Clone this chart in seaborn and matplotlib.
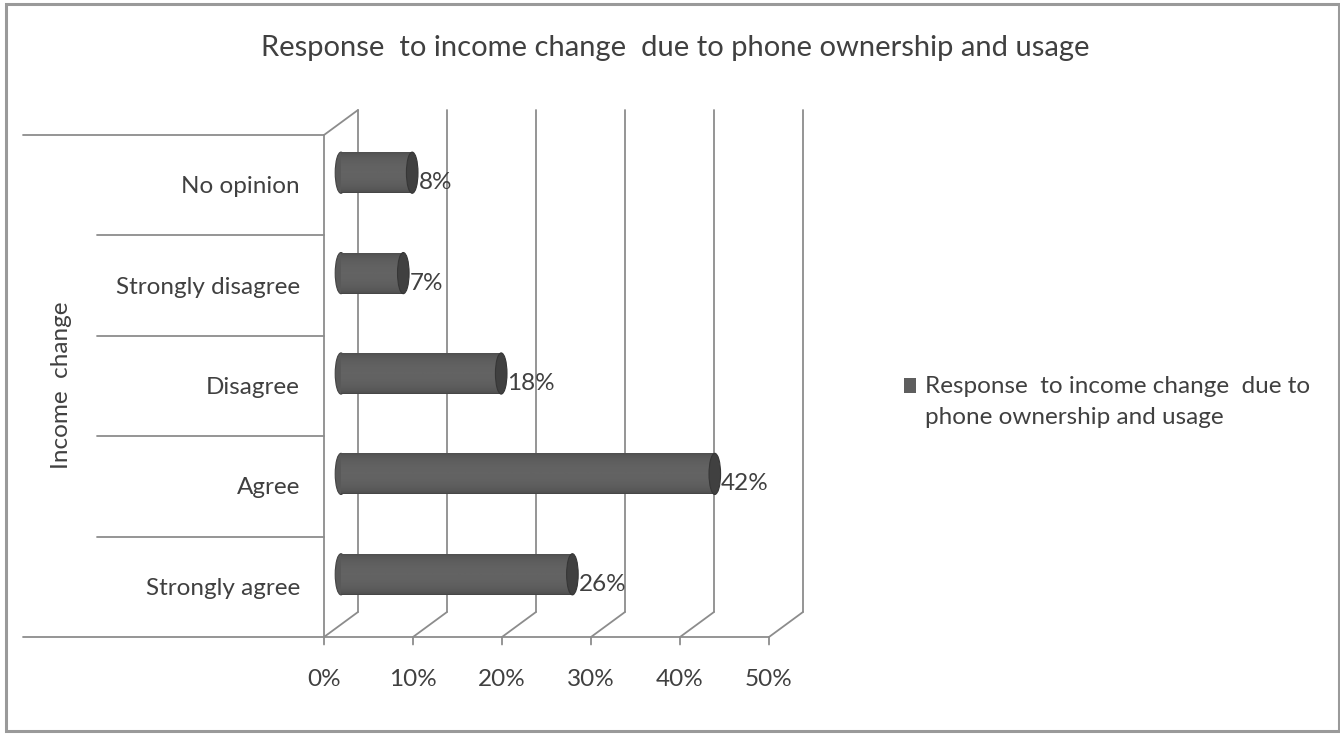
import matplotlib
matplotlib.use("Agg")
import matplotlib.pyplot as plt
import numpy as np
import pandas as pd
import seaborn as sns
from matplotlib.patches import Ellipse, Rectangle, ConnectionPatch
from matplotlib.transforms import ScaledTranslation, blended_transform_factory

# ---- data ----
categories = ["No opinion", "Strongly disagree", "Disagree", "Agree", "Strongly agree"]
values = [8, 7, 18, 42, 26]
x_ticks = [0, 10, 20, 30, 40, 50]
x_tick_labels = ["0%", "10%", "20%", "30%", "40%", "50%"]
title = "Response  to income change  due to phone ownership and usage"
series_name = "Response  to income change  due to\nphone ownership and usage"
y_label = "Income  change"

# ---- style ----
sns.set_theme(style="white")
plt.rcParams["font.family"] = ["Lato", "DejaVu Sans"]
TEXT = "#404040"
LINE = "#8c8c8c"
BODY = "#5e5e5e"
CAP = "#404040"
FS = 17.5

W, H = 1340, 734
fig = plt.figure(figsize=(W / 100, H / 100), dpi=100)
fig.patch.set_facecolor("white")


def px_rect(x0, y0, x1, y1):
    return [x0 / W, 1 - y1 / H, (x1 - x0) / W, (y1 - y0) / H]


# axes spans the mid-depth plane of the 3-D box, where the cylinders sit
ax = fig.add_axes(px_rect(341, 122.5, 786, 624.5))
df = pd.DataFrame({"category": categories, "value": values})
sns.barplot(data=df, x="value", y="category", orient="h", color=BODY,
            width=0.41, linewidth=0, ax=ax, zorder=3)
bars = list(ax.patches)
ax.set_xlim(0, 50)
ax.set_ylim(4.5, -0.5)
ax.axis("off")

# depth offsets for back wall and front edge
back = ax.transData + ScaledTranslation(0.17, 0.125, fig.dpi_scale_trans)
front = ax.transData + ScaledTranslation(-0.17, -0.125, fig.dpi_scale_trans)
tick_tr = ax.transData + ScaledTranslation(-0.17, -0.20, fig.dpi_scale_trans)
lw = 1.3

for t in x_ticks:
    # back wall gridlines
    ax.plot([t, t], [-0.5, 4.5], transform=back, color=LINE, lw=lw,
            clip_on=False, zorder=0)
    # floor depth lines
    ax.add_artist(ConnectionPatch((t, 4.5), (t, 4.5), coordsA=front,
                                  coordsB=back, color=LINE, lw=lw, zorder=0))
    # tick marks below the front edge
    ax.add_artist(ConnectionPatch((t, 4.5), (t, 4.5), coordsA=front,
                                  coordsB=tick_tr, color=LINE, lw=lw, zorder=0))

# front floor edge
ax.plot([0, 50], [4.5, 4.5], transform=front, color=LINE, lw=lw,
        clip_on=False, zorder=0)
# side wall
ax.plot([0, 0], [-0.5, 4.5], transform=front, color=LINE, lw=lw,
        clip_on=False, zorder=0)
ax.add_artist(ConnectionPatch((0, -0.5), (0, -0.5), coordsA=front,
                              coordsB=back, color=LINE, lw=lw, zorder=0))

# category separators on the left
sep_tr = blended_transform_factory(fig.transFigure, front)
for k, yb in enumerate(np.arange(-0.5, 5.0, 1.0)):
    x_left = 23 if k in (0, len(categories)) else 97
    ax.plot([x_left / W, 324 / W], [yb, yb], transform=sep_tr, color=LINE,
            lw=lw, clip_on=False, zorder=0)

# cylinder shading
shade = np.linspace(0, 1, 64)
shade = np.sin(np.pi * shade) ** 0.35
grad = shade[:, None]
cmap = matplotlib.colors.LinearSegmentedColormap.from_list("cyl", ["#434343", "#636363"])
cap_w = 1.3
for rect in bars:
    x0, w = rect.get_x(), rect.get_width()
    y0, h = rect.get_y(), rect.get_height()
    yc = y0 + h / 2
    ax.add_patch(Ellipse((x0, yc), cap_w, h, facecolor="#595959",
                         edgecolor="#444444", lw=0.8, zorder=2.9, clip_on=False))
    im = ax.imshow(grad, extent=[x0, x0 + w, y0 + h, y0], cmap=cmap, vmin=0.0,
                   vmax=1.0, aspect="auto", zorder=3.1, interpolation="bilinear")
    im.set_clip_path(rect)
    ax.add_patch(Ellipse((x0 + w, yc), cap_w, h, facecolor=CAP,
                         edgecolor="#363636", lw=0.8, zorder=3.2, clip_on=False))
ax.set_xlim(0, 50)
ax.set_ylim(4.5, -0.5)

# value labels
lab_tr = ax.transData + ScaledTranslation(0, -0.10, fig.dpi_scale_trans)
for i, v in enumerate(values):
    ax.text(v + 0.7, i, f"{v}%", transform=lab_tr, ha="left", va="center",
            fontsize=FS, color=TEXT, zorder=4)

# x tick labels
xt_tr = ax.transData + ScaledTranslation(-0.17, -0.55, fig.dpi_scale_trans)
for t, lab in zip(x_ticks, x_tick_labels):
    ax.text(t, 4.5, lab, transform=xt_tr, ha="center", va="center",
            fontsize=FS, color=TEXT)

# category labels
cat_tr = blended_transform_factory(fig.transFigure,
                                   ax.transData + ScaledTranslation(0, -0.14, fig.dpi_scale_trans))
for i, c in enumerate(categories):
    ax.text(300 / W, i, c, transform=cat_tr, ha="right", va="center",
            fontsize=FS, color=TEXT)

# axis title
fig.text(62 / W, 1 - 385 / H, y_label, rotation=90, ha="center", va="center",
         fontsize=FS, color=TEXT)

# chart title
fig.text(675 / W, 1 - 48 / H, title, ha="center", va="center",
         fontsize=21, color=TEXT)

# legend: swatch aligned with the first line of a two-line label
fig.add_artist(Rectangle((904 / W, 1 - 393 / H), 12 / W, 15 / H,
                         transform=fig.transFigure, facecolor=BODY,
                         edgecolor="none"))
fig.text(925 / W, 1 - 402 / H, series_name, ha="left", va="center",
         fontsize=FS, color=TEXT, linespacing=1.58)

# chart border
fig.add_artist(Rectangle((6 / W, 1 - 731 / H), 1333 / W, 727 / H,
                         transform=fig.transFigure, fill=False,
                         edgecolor="#9a9a9a", lw=2.2))

fig.savefig("out.png", dpi=100)
